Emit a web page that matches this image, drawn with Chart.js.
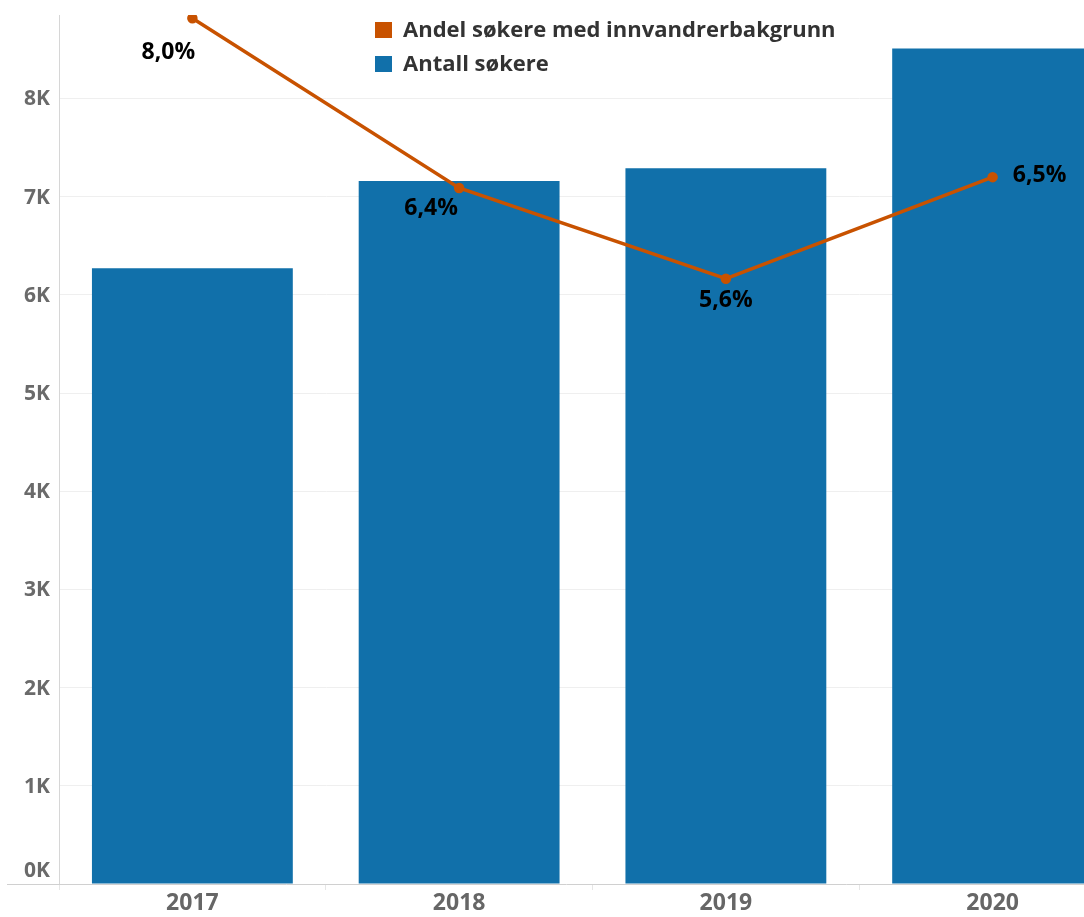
<!DOCTYPE html>
<html lang="no">
<head>
    <meta charset="UTF-8">
    <title>Søkere</title>
    <script src="https://cdn.jsdelivr.net/npm/chart.js"></script>
    <style>
        html, body {
            margin: 0;
            padding: 0;
            background: #ffffff;
            overflow: hidden;
            font-family: "Open Sans", Arial, sans-serif;
        }
        #wrap {
            position: relative;
            width: 1133px;
            height: 917px;
        }
        .legend {
            position: absolute;
            left: 375px;
            top: 12px;
            font-weight: bold;
            font-size: 22px;
            color: #333333;
        }
        .legend div {
            height: 34px;
            line-height: 32px;
            white-space: nowrap;
        }
        .legend span {
            display: inline-block;
            width: 17px;
            height: 16px;
            margin-right: 11px;
            vertical-align: -1px;
        }
    </style>
</head>
<body>
    <div id="wrap">
        <canvas id="chart" width="1133" height="917"></canvas>
        <div class="legend">
            <div><span style="background:#c85200"></span>Andel søkere med innvandrerbakgrunn</div>
            <div><span style="background:#1170aa"></span>Antall søkere</div>
        </div>
    </div>

    <script>
        // data
        const years = ['2017', '2018', '2019', '2020'];
        const antallSokere = [6270, 7160, 7290, 8510];
        const andelInnvandrer = [8.01, 6.44, 5.60, 6.54];
        const yTicks = [0, 1000, 2000, 3000, 4000, 5000, 6000, 7000, 8000];

        const fmtPct = v => v.toFixed(1).replace('.', ',') + '%';

        // label nudges around each line point (dx, dy)
        const labelShift = [[-24, 34], [-28, 21], [0, 22], [47, -2]];

        const extras = {
            id: 'extras',
            afterDatasetsDraw(chart) {
                const { ctx, chartArea, scales } = chart;
                ctx.save();

                // base line, runs a bit left of the axis like the original
                ctx.strokeStyle = '#d0d0d0';
                ctx.lineWidth = 1;
                ctx.beginPath();
                ctx.moveTo(7, chartArea.bottom + 0.5);
                ctx.lineTo(chartArea.right, chartArea.bottom + 0.5);
                ctx.stroke();

                // y tick labels
                ctx.font = 'bold 21px "Open Sans"';
                ctx.fillStyle = '#6a6a6a';
                ctx.textAlign = 'right';
                ctx.textBaseline = 'middle';
                yTicks.forEach(v => {
                    let y = scales.y.getPixelForValue(v);
                    if (v === 0) y -= 14;
                    ctx.fillText((v / 1000) + 'K', 50, y + 1);
                });

                // percent labels
                const meta = chart.getDatasetMeta(0);
                ctx.font = 'bold 23px "Open Sans"';
                ctx.fillStyle = '#000000';
                ctx.textAlign = 'center';
                meta.data.forEach((pt, i) => {
                    const s = labelShift[i];
                    ctx.fillText(fmtPct(andelInnvandrer[i]), pt.x + s[0], pt.y + s[1]);
                });
                ctx.restore();
            }
        };

        new Chart(document.getElementById('chart'), {
            data: {
                labels: years,
                datasets: [
                    {
                        type: 'line',
                        label: 'Andel søkere med innvandrerbakgrunn',
                        data: andelInnvandrer,
                        yAxisID: 'pct',
                        borderColor: '#c85200',
                        backgroundColor: '#c85200',
                        borderWidth: 3.5,
                        pointRadius: 3.5,
                        pointHoverRadius: 3.5,
                        tension: 0,
                        order: 0
                    },
                    {
                        type: 'bar',
                        label: 'Antall søkere',
                        data: antallSokere,
                        yAxisID: 'y',
                        backgroundColor: '#1170aa',
                        categoryPercentage: 1,
                        barPercentage: 0.753,
                        order: 1
                    }
                ]
            },
            options: {
                responsive: false,
                animation: false,
                layout: { padding: { top: 15, left: 0, right: 0, bottom: 0 } },
                plugins: {
                    legend: { display: false },
                    tooltip: { enabled: false }
                },
                scales: {
                    x: {
                        offset: true,
                        afterFit: s => { s.height = 33; },
                        border: { display: false },
                        grid: {
                            offset: true,
                            drawOnChartArea: false,
                            drawTicks: true,
                            tickLength: 6,
                            color: '#e6e6e6'
                        },
                        ticks: {
                            padding: 0,
                            color: '#666666',
                            font: { family: 'Open Sans', size: 23, weight: 'bold' }
                        }
                    },
                    y: {
                        position: 'left',
                        min: 0,
                        max: 8850,
                        afterFit: s => { s.width = 59; },
                        afterBuildTicks: s => { s.ticks = yTicks.map(v => ({ value: v })); },
                        border: { display: true, color: '#d6d6d6' },
                        grid: {
                            drawTicks: false,
                            color: c => c.tick && c.tick.value === 0 ? 'rgba(0,0,0,0)' : '#efefef'
                        },
                        ticks: { display: false }
                    },
                    pct: {
                        display: false,
                        position: 'right',
                        min: 0,
                        max: 8.04
                    }
                }
            },
            plugins: [extras]
        });
    </script>
</body>
</html>
